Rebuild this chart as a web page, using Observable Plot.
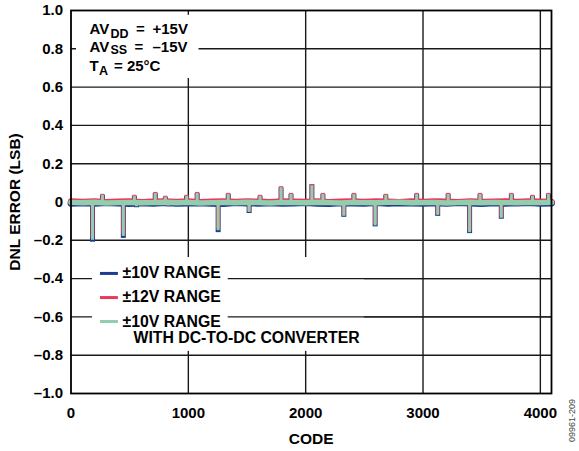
<!DOCTYPE html>
<html>
<head>
<meta charset="utf-8">
<script src="https://cdn.jsdelivr.net/npm/d3@7"></script>
<script src="https://cdn.jsdelivr.net/npm/@observablehq/plot@0.6"></script>
<style>
  html, body { margin: 0; padding: 0; background: #fff; }
  #chart { width: 579px; height: 451px; }
</style>
</head>
<body>
<div id="chart"></div>
<script>
// ---------- data ----------
const xTicks = [0, 1000, 2000, 3000, 4000];
const xTickLabels = ["0", "1000", "2000", "3000", "4000"];
const yTicks = [1.0, 0.8, 0.6, 0.4, 0.2, 0, -0.2, -0.4, -0.6, -0.8, -1.0];
const yTickLabels = ["1.0", "0.8", "0.6", "0.4", "0.2", "0", "–0.2", "–0.4", "–0.6", "–0.8", "–1.0"];

// baseline samples of the DNL band
const baseCodes = [0, 100, 200, 300, 400, 500, 600, 700, 800, 900, 1000, 1100, 1200, 1300, 1400, 1500, 1600, 1700, 1800, 1900, 2000,
  2100, 2200, 2300, 2400, 2500, 2600, 2700, 2800, 2900, 3000, 3100, 3200, 3300, 3400, 3500, 3600, 3700, 3800, 3900, 4000, 4095];
const blueBase = [-0.006, -0.004, -0.007, -0.003, -0.005, -0.008, -0.004, -0.006, -0.003, -0.007, -0.005, -0.004, -0.006, -0.008,
  -0.003, -0.005, -0.006, -0.004, -0.007, -0.005, -0.003, -0.006, -0.008, -0.004, -0.005, -0.007, -0.003, -0.006, -0.004, -0.005,
  -0.007, -0.004, -0.006, -0.003, -0.005, -0.008, -0.004, -0.006, -0.005, -0.003, -0.006, -0.005];
const redBase = [0.003, 0.001, 0.004, 0.000, 0.002, 0.003, -0.001, 0.002, 0.004, 0.001, 0.003, 0.000, 0.002, 0.004, 0.001, 0.003,
  0.002, 0.000, 0.004, 0.002, 0.001, 0.003, 0.000, 0.002, 0.004, 0.001, 0.003, 0.002, 0.000, 0.003, 0.001, 0.004, 0.002, 0.000,
  0.003, 0.001, 0.002, 0.004, 0.001, 0.003, 0.002, 0.001];
const greenBase = [-0.002, -0.004, -0.001, -0.005, -0.003, -0.002, -0.004, -0.003, -0.001, -0.004, -0.002, -0.005, -0.003, -0.002,
  -0.004, -0.001, -0.003, -0.005, -0.002, -0.003, -0.004, -0.001, -0.003, -0.005, -0.002, -0.003, -0.004, -0.002, -0.001, -0.004,
  -0.003, -0.002, -0.005, -0.003, -0.001, -0.004, -0.002, -0.003, -0.004, -0.002, -0.003, -0.002];

// spikes (codes with larger DNL)
const spikeCodes = [183, 268, 446, 540, 557, 718, 804, 829, 985, 1075, 1254, 1340, 1518, 1611, 1790, 1875, 2053, 2147, 2325, 2411,
  2592, 2683, 2946, 3125, 3214, 3397, 3486, 3667, 3753, 3933, 4069];
const spikeBlue = [-0.21, 0.035, -0.19, 0.03, -0.03, 0.045, 0.025, -0.025, 0.03, 0.045, -0.16, 0.04, -0.06, 0.03, 0.075, 0.04,
  0.09, 0.04, -0.08, 0.04, -0.13, 0.035, 0.04, -0.075, 0.04, -0.165, 0.04, -0.09, 0.04, 0.03, 0.04];
const spikeRed = [-0.19, 0.04, -0.17, 0.035, -0.02, 0.05, 0.03, -0.02, 0.035, 0.05, -0.14, 0.045, -0.05, 0.035, 0.08, 0.045,
  0.09, 0.045, -0.07, 0.045, -0.115, 0.04, 0.045, -0.065, 0.045, -0.15, 0.045, -0.08, 0.045, 0.035, 0.045];
const spikeGreen = [-0.2, 0.035, -0.18, 0.03, -0.025, 0.045, 0.025, -0.02, 0.03, 0.045, -0.15, 0.04, -0.055, 0.03, 0.075, 0.04,
  0.085, 0.04, -0.075, 0.04, -0.125, 0.035, 0.04, -0.07, 0.04, -0.16, 0.04, -0.085, 0.04, 0.03, 0.04];

const seriesNames = ["±10V RANGE", "±12V RANGE", "±10V RANGE"];
const seriesColors = ["#1c3d8c", "#e8385c", "#93cdab"];
const legendExtra = "WITH DC-TO-DC CONVERTER";

// ---------- layout / style ----------
const FONT = "'Liberation Sans', Arial, Helvetica, sans-serif";
const GRID = "#1a1a1a";
const bandWidths = [7, 6.2, 5.4];
const spikeWidths = [5, 4, 3];
const legendRowsY = [-0.373, -0.499, -0.624];
const legendSwatchX = [251, 404];

const seriesTables = [
  {base: blueBase, spikes: spikeBlue},
  {base: redBase, spikes: spikeRed},
  {base: greenBase, spikes: spikeGreen}
].map((s, k) => ({
  k,
  band: baseCodes.map((c, i) => ({code: c, dnl: s.base[i]})),
  spikes: spikeCodes.map((c, i) => ({code: c, dnl: s.spikes[i]}))
}));

const dataMarks = [];
for (const s of seriesTables) {
  dataMarks.push(Plot.line(s.band, {x: "code", y: "dnl", stroke: seriesColors[s.k], strokeWidth: bandWidths[s.k], strokeLinejoin: "round"}));
  dataMarks.push(Plot.ruleX(s.spikes, {x: "code", y1: 0, y2: "dnl", stroke: seriesColors[s.k], strokeWidth: spikeWidths[s.k], strokeLinecap: "butt"}));
}

const legendRows = seriesNames.map((name, i) => ({name, color: seriesColors[i], y: legendRowsY[i]}));

const txt = (t, o) => Plot.text([t], Object.assign({frameAnchor: "top-left", textAnchor: "start", lineAnchor: "bottom", fill: "#000"}, o));

const chart = Plot.plot({
  width: 579,
  height: 451,
  marginLeft: 70.5,
  marginRight: 28,
  marginTop: 10,
  marginBottom: 58,
  x: {domain: [0, 4095]},
  y: {domain: [-1, 1]},
  style: {fontFamily: FONT, fontWeight: "bold", fontSize: "15px", color: "#000", background: "#fff", overflow: "visible"},
  marks: [
    // grid
    Plot.ruleY(yTicks.filter(d => Math.abs(d) < 0.99), {stroke: GRID, strokeWidth: 1.4}),
    Plot.ruleX(xTicks.filter(d => d > 0), {stroke: GRID, strokeWidth: 1.4}),
    // white boxes behind annotation and legend
    Plot.rect([{x1: 47, x2: 1091, y1: 0.645, y2: 0.975}], {x1: "x1", x2: "x2", y1: "y1", y2: "y2", fill: "#fff"}),
    Plot.rect([{x1: 183, x2: 2500, y1: -0.78, y2: -0.29}], {x1: "x1", x2: "x2", y1: "y1", y2: "y2", fill: "#fff"}),
    Plot.ruleY([-0.4, -0.6], {x1: 1340, x2: 4095, stroke: GRID, strokeWidth: 1.4}),
    // data
    ...dataMarks,
    Plot.frame({stroke: "#000", strokeWidth: 1.8}),
    // axes
    Plot.axisX(xTicks, {tickSize: 0, tickPadding: 14, label: null, tickFormat: d => xTickLabels[xTicks.indexOf(d)]}),
    Plot.axisY(yTicks, {tickSize: 0, tickPadding: 8, label: null, tickFormat: d => yTickLabels[yTicks.indexOf(d)]}),
    // axis titles
    Plot.text(["DNL ERROR (LSB)"], {frameAnchor: "left", dx: -55.5, rotate: -90, textAnchor: "middle", lineAnchor: "middle", fill: "#000", fontSize: 15.5}),
    Plot.text(["CODE"], {frameAnchor: "bottom", dy: 50, textAnchor: "middle", lineAnchor: "bottom", fill: "#000", fontSize: 15.5}),
    Plot.text(["09961-209"], {frameAnchor: "bottom-right", dx: 21, dy: 27, rotate: -90, textAnchor: "middle", lineAnchor: "middle", fontSize: 9, fontWeight: "normal", fill: "#444"}),
    // annotation
    txt("AV", {dx: 18.5, dy: 23}),
    txt("DD", {dx: 39.5, dy: 27, fontSize: 12.5}),
    txt("=", {dx: 65, dy: 23}),
    txt("+15V", {dx: 81.5, dy: 23}),
    txt("AV", {dx: 18.5, dy: 41}),
    txt("SS", {dx: 39.5, dy: 43.5, fontSize: 12.5}),
    txt("=", {dx: 63.5, dy: 41}),
    txt("–15V", {dx: 81.5, dy: 41}),
    txt("T", {dx: 18.5, dy: 60.5}),
    txt("A", {dx: 28, dy: 64, fontSize: 12.5}),
    txt("= 25°C", {dx: 43, dy: 60.5}),
    // legend
    Plot.ruleY(legendRows, {y: "y", x1: legendSwatchX[0], x2: legendSwatchX[1], stroke: "color", strokeWidth: 3}),
    ...legendRows.map((r, i) => txt(r.name, {dx: 51.5, dy: 267 + 24.5 * i, fontSize: 15.8})),
    txt(legendExtra, {dx: 62.5, dy: 332, fontSize: 15.8})
  ]
});
document.getElementById("chart").appendChild(chart);
</script>
</body>
</html>
